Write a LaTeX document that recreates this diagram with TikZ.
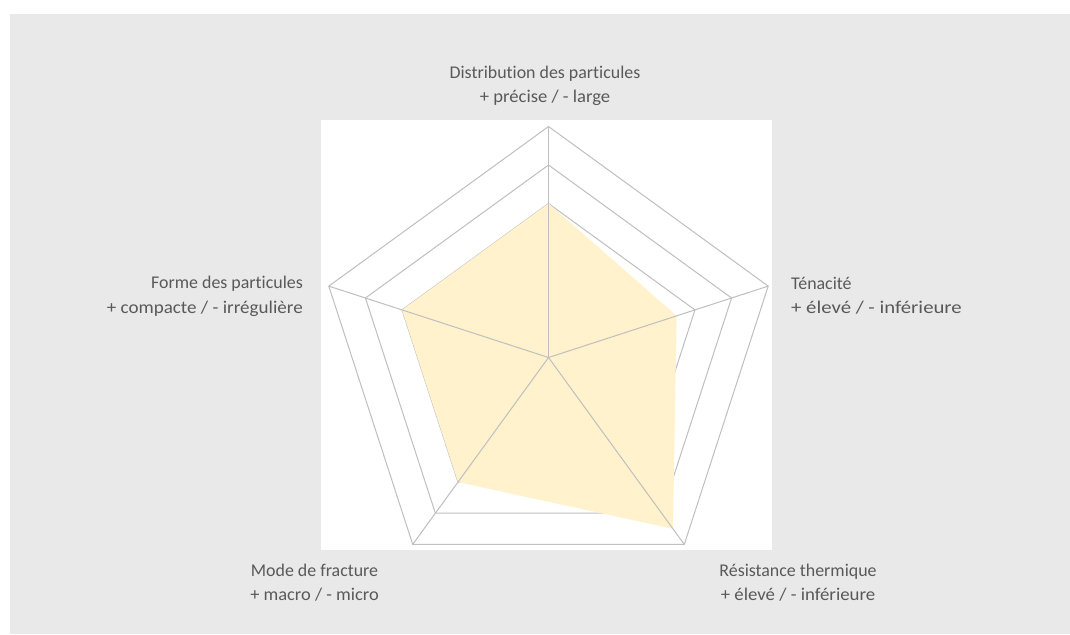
\documentclass[tikz,border=0pt]{standalone}
\usepackage{fontspec}
\usepackage{graphicx}
\setmainfont{Carlito}[Ligatures=NoCommon]
\definecolor{bgc}{HTML}{E9E9E9}
\definecolor{gridc}{HTML}{BFBFBF}
\definecolor{fillc}{HTML}{FFF2CC}
\definecolor{txtc}{HTML}{595959}
\begin{document}
\begin{tikzpicture}[x=1pt,y=-1pt,
  lbl/.style={text=txtc, font=\fontsize{17.9}{24.5}\selectfont, inner sep=0pt},
  gridline/.style={draw=gridc, line width=1pt, line join=miter},
  spoke/.style={draw=gridc, line width=1pt}]
\useasboundingbox (0,0) rectangle (1070,634);
\fill[bgc] (10,14) rectangle (1070,634);
\fill[white] (321,120) rectangle (772,550);
\coordinate (C) at (548.5,357.5);
\begin{scope}[shift={(548.5,357.5)}]
  % rings (1..6 units, 38.5 per unit)
  \foreach \r in {1,...,6}{
    \draw[gridline] (-90:\r*38.5) -- (-18:\r*38.5) -- (54:\r*38.5) -- (126:\r*38.5) -- (198:\r*38.5) -- cycle;
  }
  % data: 4, 3.5, 5.5, 4, 4
  \coordinate (d1) at (-90:154);
  \coordinate (d2) at (-18:134.75);
  \coordinate (d3) at (54:211.75);
  \coordinate (d4) at (126:154);
  \coordinate (d5) at (198:154);
  \fill[fillc] (d1) -- (d2) -- (d3) -- (d4) -- (d5) -- cycle;
  % spokes
  \coordinate (a1) at (-90:231);
  \coordinate (a2) at (-18:231);
  \coordinate (a3) at (54:231);
  \coordinate (a4) at (126:231);
  \coordinate (a5) at (198:231);
  \foreach \a in {a1,a2,a3,a4,a5}{\draw[spoke] (C) -- (\a);}
\end{scope}
\node[lbl, align=center, anchor=base] (ltop) at (545,102.5) {Distribution des particules\\\scalebox{1.04}[1]{+ précise / - large}};
\node[lbl, align=left, anchor=base west] (lright) at (791,313.5) {Ténacité\\\scalebox{1.16}[1]{+ élevé / - inférieure}};
\node[lbl, align=right, anchor=base east] (lleft) at (303,313) {Forme des particules\\\scalebox{1.065}[1]{+ compacte / - irrégulière}};
\node[lbl, align=center, anchor=base] (lbl) at (314.5,600.5) {Mode de fracture\\\scalebox{1.03}[1]{+ macro / - micro}};
\node[lbl, align=center, anchor=base] (lbr) at (798,600.5) {Résistance thermique\\\scalebox{1.05}[1]{+ élevé / - inférieure}};
\end{tikzpicture}
\end{document}
